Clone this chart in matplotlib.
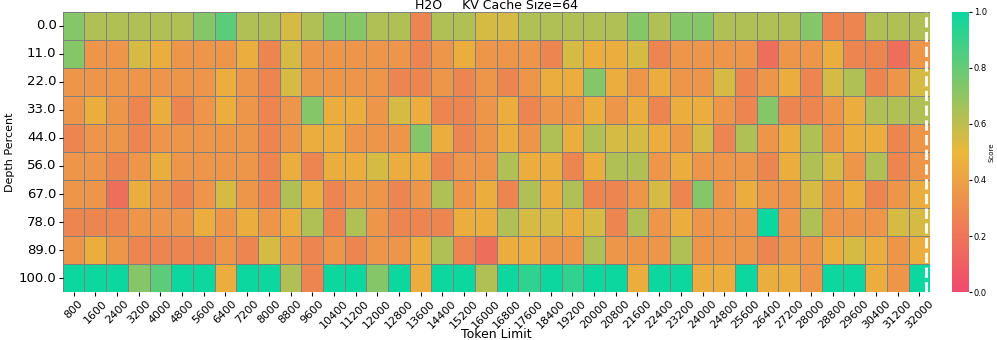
import matplotlib
matplotlib.use('Agg')
import matplotlib.pyplot as plt
from matplotlib.colors import LinearSegmentedColormap
import numpy as np
import pandas as pd
import seaborn as sns

depths = [0.0, 11.0, 22.0, 33.0, 44.0, 56.0, 67.0, 78.0, 89.0, 100.0]
token_limits = list(range(800, 32001, 800))

# scores per depth row, one value per token limit
row_00 = [.73, .63, .63, .63, .63, .63, .73, .82, .63, .63,
          .55, .63, .73, .73, .63, .63, .27, .63, .63, .55,
          .55, .63, .63, .63, .63, .63, .73, .63, .73, .73,
          .63, .63, .63, .63, .73, .27, .27, .63, .63, .63]
row_11 = [.73, .35, .35, .55, .45, .35, .35, .35, .45, .27,
          .55, .35, .35, .35, .35, .35, .27, .35, .45, .35,
          .35, .35, .27, .55, .45, .45, .55, .27, .35, .35,
          .35, .35, .17, .35, .35, .45, .27, .27, .17, .35]
row_22 = [.35, .35, .35, .35, .35, .35, .35, .45, .35, .27,
          .55, .35, .35, .35, .35, .27, .27, .35, .27, .35,
          .27, .35, .45, .45, .73, .45, .35, .45, .35, .35,
          .55, .27, .35, .45, .27, .55, .63, .27, .35, .55]
row_33 = [.35, .45, .35, .27, .45, .27, .35, .45, .35, .27,
          .35, .73, .45, .45, .35, .55, .45, .27, .27, .35,
          .45, .27, .35, .35, .45, .35, .45, .27, .45, .45,
          .35, .27, .73, .27, .27, .35, .45, .63, .63, .63]
row_44 = [.27, .35, .35, .27, .35, .35, .35, .35, .35, .27,
          .35, .45, .45, .35, .35, .35, .73, .45, .27, .35,
          .45, .35, .63, .45, .63, .55, .55, .45, .35, .55,
          .27, .63, .35, .45, .63, .35, .45, .45, .27, .35]
row_56 = [.35, .35, .27, .35, .45, .35, .35, .35, .35, .27,
          .45, .27, .45, .45, .55, .45, .45, .27, .35, .35,
          .63, .45, .45, .27, .45, .63, .63, .35, .45, .35,
          .35, .35, .27, .45, .63, .55, .35, .63, .27, .35]
row_67 = [.35, .35, .17, .45, .35, .27, .35, .55, .35, .27,
          .63, .45, .27, .35, .35, .27, .35, .63, .35, .45,
          .27, .63, .45, .63, .27, .27, .35, .55, .27, .73,
          .35, .45, .35, .35, .55, .35, .45, .27, .35, .45]
row_78 = [.27, .27, .27, .35, .35, .35, .45, .35, .45, .35,
          .45, .63, .27, .63, .35, .27, .27, .27, .45, .45,
          .63, .55, .55, .45, .55, .27, .63, .35, .45, .35,
          .35, .35, 1.0, .35, .63, .35, .35, .35, .55, .55]
row_89 = [.35, .45, .35, .27, .27, .27, .27, .35, .27, .55,
          .35, .27, .35, .27, .35, .35, .45, .63, .27, .17,
          .45, .45, .35, .35, .63, .35, .35, .35, .63, .35,
          .35, .35, .27, .35, .35, .45, .55, .45, .35, .45]
row_100 = [1.0, 1.0, 1.0, .73, .82, 1.0, 1.0, .45, 1.0, 1.0,
           .63, .27, 1.0, 1.0, .73, 1.0, .45, 1.0, 1.0, .63,
           1.0, .92, 1.0, .92, 1.0, 1.0, .45, 1.0, 1.0, .45,
           .45, 1.0, .45, .45, .35, 1.0, 1.0, .45, .35, 1.0]

scores = [row_00, row_11, row_22, row_33, row_44, row_56, row_67, row_78, row_89, row_100]
df = pd.DataFrame(scores, index=depths, columns=token_limits)

cmap = LinearSegmentedColormap.from_list("custom_cmap", ["#F0496E", "#EBB839", "#0CD79F"])

fig = plt.figure(figsize=(9.97, 3.4), dpi=100)
ax = fig.add_axes([0.063, 0.141, 0.870, 0.824])
cax = fig.add_axes([0.955, 0.141, 0.017, 0.824])

sns.heatmap(df, ax=ax, cbar_ax=cax, cmap=cmap, vmin=0, vmax=1,
            linewidths=0.5, linecolor='grey', cbar_kws={'label': 'Score'})

ax.axvline(x=39.82, color='white', linestyle='--', linewidth=2)

ax.set_title('H2O     KV Cache Size=64', fontsize=9, pad=1)
ax.set_xlabel('Token Limit', fontsize=9)
ax.xaxis.set_label_coords(0.5, -0.13)
ax.set_ylabel('Depth Percent', fontsize=8, labelpad=3)
ax.set_xticklabels(token_limits, rotation=45, fontsize=8)
ax.set_yticklabels(depths, rotation=0, fontsize=9.5)
ax.tick_params(axis='both', length=3, pad=1.5)

cax.set_yticks([0.0, 0.2, 0.4, 0.6, 0.8, 1.0])
cax.set_yticklabels(['0.0', '0.2', '0.4', '0.6', '0.8', '1.0'])
cax.tick_params(labelsize=6, length=2, pad=1.5)
cax.set_ylabel('Score', fontsize=5, labelpad=1)

plt.savefig('out.png')
